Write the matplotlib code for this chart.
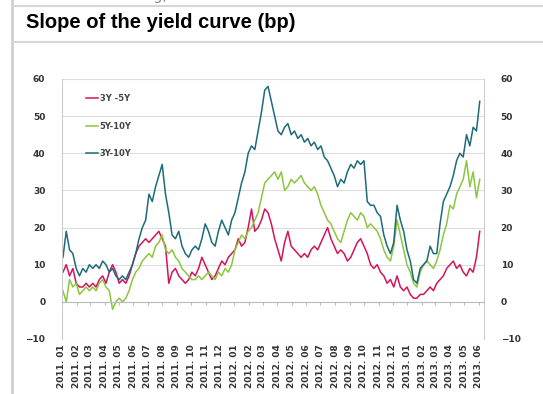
import numpy as np
import pandas as pd
import matplotlib
matplotlib.use("Agg")
import matplotlib.pyplot as plt
import matplotlib.dates as mdates
from matplotlib.lines import Line2D

# weekly observations, Jan 2011 - Jun 2013
dates = pd.date_range("2011-01-03", periods=127, freq="W-MON")

s_3y5y = [8, 10, 7, 9, 5, 4, 4, 5, 4, 5, 4, 6, 7, 5, 8, 10, 8, 5, 6, 5,
          7, 10, 13, 15, 16, 17, 16, 17, 18, 19, 17, 15, 5, 8, 9, 7, 6, 5, 6, 8,
          7, 9, 12, 10, 8, 6, 7, 9, 11, 10, 12, 13, 14, 17, 15, 16, 20, 25, 19, 20,
          22, 25, 24, 21, 17, 14, 11, 16, 19, 15, 14, 13, 12, 13, 12, 14, 15, 14, 16, 18,
          20, 17, 15, 13, 14, 13, 11, 12, 14, 16, 17, 15, 13, 10, 9, 10, 8, 7, 5, 6,
          4, 7, 4, 3, 4, 2, 1, 1, 2, 2, 3, 4, 3, 5, 6, 7, 9, 10, 11, 9,
          10, 8, 7, 9, 8, 12, 19]

s_5y10y = [3, 0, 6, 4, 5, 2, 3, 4, 3, 4, 3, 5, 6, 4, 3, -2, 0, 1, 0, 1,
           3, 6, 8, 9, 11, 12, 13, 12, 15, 16, 18, 14, 13, 14, 12, 11, 9, 8, 7, 6,
           6, 7, 6, 7, 8, 7, 6, 8, 7, 9, 8, 10, 14, 16, 18, 17, 19, 20, 22, 24,
           28, 32, 33, 34, 35, 33, 35, 30, 31, 33, 32, 33, 34, 32, 31, 30, 31, 29, 26, 24,
           22, 21, 19, 17, 16, 19, 22, 24, 23, 22, 24, 23, 20, 21, 20, 19, 17, 14, 12, 11,
           15, 22, 18, 14, 10, 8, 5, 4, 8, 10, 11, 10, 9, 11, 14, 18, 21, 26, 25, 29,
           31, 33, 38, 31, 35, 28, 33]

s_3y10y = [12, 19, 14, 13, 9, 7, 9, 8, 10, 9, 10, 9, 11, 10, 8, 9, 7, 6, 7, 6,
           8, 10, 13, 17, 20, 22, 29, 27, 31, 34, 37, 29, 24, 18, 17, 19, 15, 13, 12, 14,
           15, 14, 17, 21, 19, 16, 15, 19, 22, 20, 18, 22, 24, 28, 32, 35, 40, 42, 41, 46,
           51, 57, 58, 54, 50, 46, 45, 47, 48, 45, 46, 44, 45, 43, 44, 42, 43, 41, 42, 39,
           38, 36, 34, 31, 33, 32, 35, 37, 36, 38, 37, 38, 27, 26, 26, 24, 23, 18, 15, 13,
           16, 26, 22, 19, 14, 11, 6, 5, 9, 10, 11, 15, 13, 13, 21, 27, 29, 31, 34, 38,
           40, 39, 45, 42, 47, 46, 54]

labels = ["3Y -5Y", "5Y-10Y", "3Y-10Y"]
colors = ["#d4145a", "#8cc63f", "#1d6b78"]

fig = plt.figure(figsize=(5.43, 3.94), dpi=100)

# frame lines and header
fig.add_artist(Line2D([12 / 543, 12 / 543], [0, 1], color="#cfcfcf", lw=2))
fig.add_artist(Line2D([12 / 543, 1], [1 - 6 / 394, 1 - 6 / 394], color="#d6d6d6", lw=1.5))
fig.add_artist(Line2D([12 / 543, 1], [1 - 42 / 394, 1 - 42 / 394], color="#d6d6d6", lw=1.5))
fig.text(30 / 543, 1 + 4 / 394, "Source: Bloomberg, UniCredit Research", fontsize=10,
         color="#888888", va="center", ha="left")
fig.text(26 / 543, 1 - 23 / 394, "Slope of the yield curve (bp)", fontsize=14.5,
         fontweight="bold", va="center", ha="left", family="Liberation Sans")

ax = fig.add_axes([62 / 543, 1 - 339 / 394, 422 / 543, 260 / 394])
for vals, lab, col in zip([s_3y5y, s_5y10y, s_3y10y], labels, colors):
    ax.plot(dates, vals, color=col, lw=1.1, label=lab)

ax.set_ylim(-10, 60)
ax.set_yticks(range(-10, 61, 10))
ax.set_xlim(pd.Timestamp("2011-01-01"), pd.Timestamp("2013-06-12"))
ax.xaxis.set_major_locator(mdates.MonthLocator())
ax.grid(axis="y", color="#dddddd", lw=0.8)
ax.set_axisbelow(True)

# category axis crosses at 0, labels stay at the bottom
ax.spines["bottom"].set_position(("data", 0))
ax.spines["bottom"].set_color("#bbbbbb")
ax.spines["top"].set_visible(False)
ax.spines["left"].set_color("#cccccc")
ax.spines["right"].set_color("#cccccc")
ax.tick_params(axis="x", length=2.5, color="#bbbbbb", labelbottom=False)
ax.tick_params(axis="y", length=0, labelsize=6.5, labelcolor="#333333",
               labelright=True, pad=12)
for t in ax.get_yticklabels():
    t.set_fontweight("bold")

for d in ax.get_xticks():
    ax.text(d, -11.5, mdates.num2date(d).strftime("%Y. %m"), rotation=90,
            ha="center", va="top", fontsize=6.5, color="#333333", fontweight="bold")

leg = ax.legend(loc="upper left", bbox_to_anchor=(0.04, 0.97), frameon=False,
                fontsize=6, handlelength=1.4, handletextpad=0.2, labelspacing=2.2)
for t in leg.get_texts():
    t.set_color("#444444")
    t.set_fontweight("bold")

fig.savefig("out.png", dpi=100)
